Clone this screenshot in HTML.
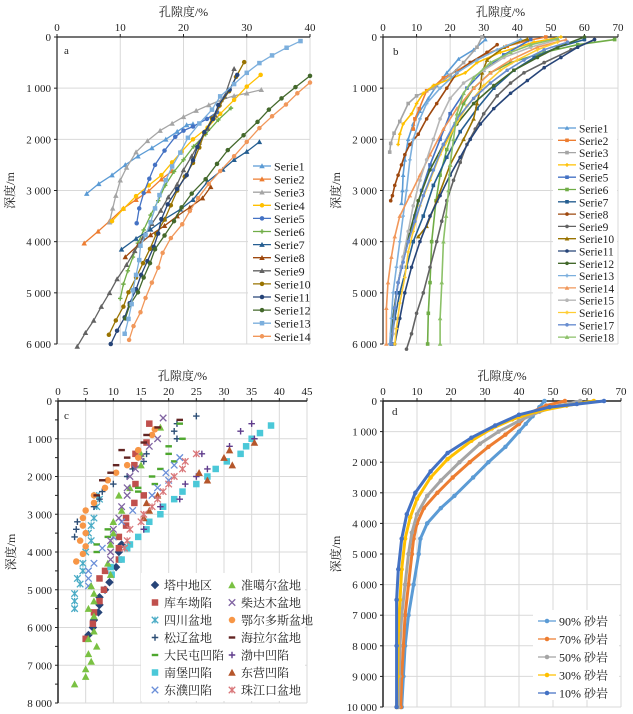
<!DOCTYPE html>
<html><head><meta charset="utf-8"><style>
html,body{margin:0;padding:0;background:#fff;}
svg{display:block;font-family:"Liberation Serif","Noto Serif CJK SC","Noto Sans CJK SC",serif;}
</style></head><body>
<svg id="chart" width="633" height="714" viewBox="0 0 633 714"></svg>
<script>
// ---------- DATA ----------
const aNames=["Serie1","Serie2","Serie3","Serie4","Serie5","Serie6","Serie7","Serie8","Serie9","Serie10","Serie11","Serie12","Serie13","Serie14"];
const aSeries=[
[[4.7,3060],[6.6,2870],[8.7,2700],[10.8,2500],[12.8,2330],[15,2170],[17.2,2000],[19,1850],[20.5,1720],[21.5,1700]],
[[4.3,4030],[6.5,3800],[8.3,3600],[10.5,3350],[12.5,3180],[14.5,3010],[16.5,2780],[18.2,2620]],
[[8.3,3620],[8.8,3350],[9.3,3100],[10,2800],[11,2550],[12.5,2250],[14.3,2030],[16.3,1830],[18.2,1690],[20,1560],[22,1440],[24,1330],[26,1230],[28,1150],[30,1100],[32.3,1030]],
[[8.7,3600],[10.5,3360],[12.5,3110],[14.5,2900],[16.5,2700],[18.2,2450],[19.7,2240],[21.5,2000],[23.8,1770],[25.8,1500],[28,1230],[30,970],[32.2,740]],
[[12.6,3640],[13,3350],[13.7,3050],[14.6,2770],[15.5,2500],[17,2220],[18.7,1950],[20,1830],[21.5,1750],[23.7,1600],[25.3,1470]],
[[10,5110],[10.5,4830],[11.2,4570],[12,4300],[12.8,4030],[13.7,3770],[14.8,3480],[16,3200],[17.1,2900],[18.5,2630],[20,2400],[21.6,2140],[23.5,1900],[25.5,1620],[27.5,1390]],
[[10.2,4150],[12.5,3940],[14.8,3760],[17,3560],[19.5,3370],[21.5,3180],[23.8,2830],[26.2,2590],[28,2400],[30,2240],[32,2050]],
[[10.8,4300],[12.8,4070],[14.8,3870],[17,3690],[19,3500],[21,3330],[23,3150],[24.3,2930]],
[[3.2,6050],[4.5,5780],[5.8,5540],[7,5270],[8.3,5000],[9.5,4730],[11,4450],[12.3,4180],[13.6,3920],[15,3650],[16.4,3390],[17.6,3130],[19,2880],[20,2600],[21.3,2330],[22.5,2060],[23.8,1790],[25,1530],[26.5,1160],[28,620]],
[[8.2,5820],[9.3,5540],[10.5,5270],[11.3,4990],[12.5,4700],[13.6,4420],[14.7,4140],[15.7,3850],[17,3570],[18,3290],[19,3000],[20.2,2730],[21.5,2460],[22.5,2160],[23.3,1880],[24.5,1590],[25.7,1340],[27.2,1060],[28.3,780],[29.6,490]],
[[8.5,6000],[9.5,5740],[10.7,5480],[11.5,5200],[12.5,4930],[13.3,4650],[14.3,4380],[15.3,4100],[16,3840],[16.5,3560],[17.5,3270],[19,2970],[20.5,2700],[21.5,2410],[22.2,2150],[23.3,1860],[24.7,1600],[25.5,1330],[27.3,1030],[28.5,740]],
[[10.8,5500],[11.5,5240],[12.8,4990],[13.7,4700],[14.7,4420],[15.5,4150],[17,3880],[18.5,3600],[19.7,3330],[21.3,3060],[23.5,2780],[25.3,2480],[27,2210],[29.5,1920],[31.7,1660],[33.5,1420],[35.5,1200],[37.7,980],[40,760]],
[[10.7,5800],[11.3,5510],[11.8,5220],[12,4950],[12.5,4650],[13,4360],[13.2,4080],[14,3870],[14.8,3620],[15.5,3350],[16.2,3090],[17.2,2800],[18.2,2530],[19.5,2260],[20.7,1970],[22.5,1690],[24.5,1420],[25.8,1160],[28,920],[30,700],[32,510],[34,360],[36.3,210],[38.5,80]],
[[11.4,5920],[12.1,5650],[13.2,5380],[14,5100],[15,4800],[16,4510],[16.7,4220],[18,3930],[19.8,3660],[21,3400],[22.3,3150],[24,2870],[25.8,2620],[28,2330],[30,2050],[32,1780],[34,1550],[36.2,1320],[38,1100],[40,890]]
];
const bNames=["Serie1","Serie2","Serie3","Serie4","Serie5","Serie6","Serie7","Serie8","Serie9","Serie10","Serie11","Serie12","Serie13","Serie14","Serie15","Serie16","Serie17","Serie18"];
const bSeries=[
[[30.5,50],[27,250],[22.5,430],[19,700],[16,950],[13.5,1200],[11,1450],[9,1700],[7.5,2000],[6.5,2400],[6,2700],[5.8,3000],[5.5,3250]],
[[48.5,0],[43,70],[37,180],[31,320],[26,500],[22,660],[18,800],[15.5,950],[13,1050],[10.8,1400],[9.5,1600],[9,1800]],
[[29.5,0],[28,200],[24,500],[20,750],[15,1000],[10,1150],[7.5,1300],[5,1650],[3.3,1880],[2.3,2080],[2,2250]],
[[53,0],[45,100],[35,300],[28,500],[24.5,700],[20,820],[15,950],[12,1100],[10,1300],[8.5,1500],[6,1700],[5,1900],[4.5,2100]],
[[44,50],[36,350],[30,650],[25,1000],[20,1500],[17,2000],[14,2500],[11.5,3000],[9.5,3500],[7.5,4000],[5.5,4500],[4,5000],[3,5500],[2.5,6000]],
[[69,50],[58,150],[48,300],[38,500],[32,700],[27,1000],[24,1300],[21.5,1700],[19,2200],[17,2700],[15.8,3200],[14.5,4000],[14,4800],[13.5,5400],[13.3,6000]],
[[60,50],[52,200],[45,400],[39,650],[33,1000],[28,1400],[23,1850],[19,2350],[15,2900],[12,3500],[9,4000],[7,4500],[5,5000],[3.5,5500],[2.5,6000]],
[[34,150],[31,300],[26,500],[22,700],[19,1000],[16,1300],[13,1600],[10.5,1900],[8,2100],[6.5,2300],[5.5,2500],[4.5,2700],[3.5,2900],[2.8,3100],[2.3,3200]],
[[63,50],[56,250],[48,500],[42,700],[38,900],[34,1150],[30,1500],[27.5,1800],[25,2100],[23,2450],[21,2800],[19,3200],[17.5,3600],[16,4000],[14,4500],[12,5000],[10,5400],[8.5,5800],[7,6100]],
[[43,40],[36,200],[31,450],[29.5,700],[29,1000],[28,1300],[27,1600],[24,2000],[20,2500],[16,3200],[13,3700],[10.5,3900]],
[[63,50],[58,200],[53,400],[48,600],[43,850],[38,1100],[33,1400],[29,1700],[26,2000],[23,2350],[20,2700],[17,3100],[14,3500],[11,4000],[8.5,4500],[6.5,5000],[5,5500],[3.5,6000]],
[[60,0],[52,200],[46,400],[39,650],[33,950],[27,1300],[22,1700],[18,2100],[14,2600],[10.5,3200],[8,3800],[6,4300],[4.5,4800],[3.3,5300],[2.5,5800],[2.2,6000]],
[[41,50],[34,250],[28,450],[22,700],[17,1000],[13,1300],[11,1600],[9,2000],[8,2400],[7,3000],[6,3500],[5,4000],[4,4500],[3,5000],[2.5,5500],[2,6000]],
[[54.5,50],[46,200],[38,450],[32,700],[27,1000],[22,1400],[18,1800],[14,2300],[11,2700],[8,3100],[5,3500],[3.5,3900],[2.5,4300],[1.5,4800],[1,5300],[1,6000]],
[[52,50],[44,200],[36,400],[30,650],[24,900],[20,1200],[17,1600],[15,2000],[13,2400],[11,2800],[9,3300],[7.5,3800],[6,4300],[4.5,4800],[3.5,5300],[3,5800]],
[[52,100],[46,250],[40,450],[35,650],[30,950],[25,1350],[21,1800],[17,2300],[14,2800],[11,3300],[9,3800],[7.5,4200],[6.5,4700],[5,5200],[4,5700],[3.5,6000]],
[[55,100],[48,250],[42,450],[37,650],[32,900],[27,1200],[22,1600],[18,2100],[15,2600],[12,3100],[9.5,3600],[7.5,4000],[6,4400],[4.5,4800],[3.5,5300],[2.5,6000]],
[[52,30],[44,150],[38,300],[32,500],[27,800],[24,1100],[22,1500],[21,2000],[20,2500],[19.5,3000],[18.8,3500],[18,4000],[17.5,4800],[17,5500],[17,6000]]
];
const cNames=["塔中地区","库车坳陷","四川盆地","松辽盆地","大民屯凹陷","南堡凹陷","东濮凹陷","准噶尔盆地","柴达木盆地","鄂尔多斯盆地","海拉尔盆地","渤中凹陷","东营凹陷","珠江口盆地"];
const cSeries=[
[[11.5,3800],[11,4000],[10.5,4400],[9.3,4800],[8.5,5000],[7.5,5200],[7.5,5400],[7.3,5600],[6.5,5800],[6.3,6000],[5.5,6200]],
[[16.5,600],[16,1100],[14,1400],[13.8,1700],[14,2200],[15.5,2500],[13.8,2700],[12.3,3100],[12.3,3300],[11,3600],[11,3900],[11,4200],[8.5,4500],[7.5,4700],[8.3,5000],[7.5,5300],[6.5,5600],[6.3,5900],[5,6300]],
[[7,2500],[7.5,2600],[7,2800],[6.5,3100],[6,3300],[5.5,3500],[6,3700],[5,4000],[4.5,4300],[4.5,4500],[3.5,4700],[4,4850],[3,5100],[3,5300],[3,5500]],
[[25,400],[21.5,600],[21,800],[21.5,1000],[16,1400],[15.5,1600],[13.5,1800],[12.5,2000],[10,2200],[8,2400],[7.5,2600],[6.5,2800],[3.5,3200],[3.3,3400],[3,3600],[15.5,3400]],
[[22,600],[22.5,1000],[20,1200],[20,1400],[21,1600],[18.5,1800],[17,2000],[17.5,2200],[14.5,2300],[14.5,2400],[9,3400],[9,3600],[7,3800],[7,4000]],
[[38.5,650],[36.5,850],[35,1000],[34,1200],[33,1400],[30.5,1600],[28.5,1800],[27,2000],[25,2200],[22.5,2400],[21,2600],[19,2800],[18.5,3000],[16.5,3200],[16,3400],[14.5,3600],[13,3800],[12.5,3900],[11.5,4200],[9.5,4400],[9.7,4600]],
[[22,1500],[21,1700],[19.5,1900],[20,2100],[18,2300],[17,2500],[13.5,2900],[11.5,3200],[10,3600],[8,3900],[6.5,4300],[5.5,4500],[5.5,4700],[5.5,4900]],
[[18.5,700],[15,1400],[15,1700],[13,2300],[11,2500],[11.5,2900],[10,3200],[10,3500],[9.5,3800],[9,4300],[9.5,4600],[6,4900],[6.5,5100],[6.5,5300],[5.5,5500],[6.5,5700],[6.5,6100],[5.5,6300],[7,6500],[5.5,6700],[6,6900],[5,7100],[5,7300],[3,7500]],
[[19,450],[18,1000],[16.5,1200],[15,1500],[14,1800],[13,2000],[12.5,2300],[12.5,2500],[11.5,2800],[11,3100],[10,3400],[9.5,3700],[9.5,4000],[9.5,4200]],
[[17.5,750],[17,900],[14.5,1300],[14.5,1500],[12.5,1700],[10.5,1900],[9,2100],[8.5,2300],[6.5,2500],[6.5,2700],[5,2900],[4.5,3100],[4.5,3300],[5,3500],[4,3700],[5,3850],[4.5,4050],[3.3,4250]],
[[22,500],[18,700],[16,900],[15.5,1100],[11.5,1300],[12.5,1500],[10.5,1700],[9.5,1900],[8,2100],[7,2500]],
[[35,600],[33,800],[35.5,1000],[31,1200],[26,1400],[27,1800],[25,2000],[23,2200],[22,2600],[18.5,2800],[15.5,3400]],
[[35.5,1100],[31,1300],[30,1500],[31.5,1700],[25.5,1900],[27,2100],[18,2500],[16,2700],[16.5,2900],[15.5,3100]],
[[25,1400],[23,1600],[22.5,1800],[21,2000],[20,2200],[19,2400],[18,2600],[17,2800],[15.5,3000],[15,3200],[13,3400],[12.5,3700],[12,3900]]
];
const dNames=["90% 砂岩","70% 砂岩","50% 砂岩","30% 砂岩","10% 砂岩"];
const dSeries=[
[[47.5,0],[46,200],[44,500],[42,750],[40,1000],[36,1500],[31,2000],[26.5,2500],[21,3100],[17,3500],[13,4000],[11,4500],[10.5,5000],[9,6000],[7.5,7000],[6.5,8000],[6,9000],[5.5,10000]],
[[53.5,0],[48,150],[43,400],[40,750],[36,1100],[31,1500],[25.5,2000],[20.5,2500],[16,3000],[12,3500],[10,4000],[9,4500],[8.5,5000],[7.5,6000],[6.5,7000],[6,8000],[5.5,9000],[5.2,10000]],
[[58,0],[52,150],[46,350],[40,650],[34,1000],[28.5,1400],[22.5,2000],[17,2600],[13,3100],[10,3700],[8.5,4300],[7.5,5000],[6.5,6000],[5.5,7000],[5,8000],[4.8,9000],[4.5,10000]],
[[62,0],[54,150],[45,350],[38,600],[32,900],[26,1300],[19,1900],[14,2500],[10,3200],[8,3800],[6.5,4500],[5.5,5500],[5,6500],[4.5,7500],[4.3,9000],[4,10000]],
[[65,0],[57,100],[49,200],[40,450],[33,800],[26,1200],[19,1700],[14,2300],[9.5,3000],[7,3700],[5.5,4500],[4.5,5500],[4,6500],[4,8000],[4,10000]]
];
// ---------- STYLE ----------
const aStyle=[["#5B9BD5","tri"],["#ED7D31","tri"],["#A5A5A5","tri"],["#FFC000","circ"],["#4472C4","circ"],["#70AD47","plus"],["#255E91","tri"],["#9E480E","tri"],["#636363","tri"],["#997300","circ"],["#264478","circ"],["#43682B","circ"],["#7CAFDD","sq"],["#F1975A","circ"]];
const bStyle=[["#5B9BD5","tri"],["#ED7D31","sq"],["#A5A5A5","sq"],["#FFC000","plus"],["#4472C4","sq"],["#70AD47","sq"],["#255E91","sq"],["#9E480E","circ"],["#636363","circ"],["#997300","tri"],["#264478","circ"],["#43682B","circ"],["#7CAFDD","plus"],["#F1975A","tri"],["#B7B7B7","circ"],["#FFCD33","plus"],["#698ED0","circ"],["#8CC168","tri"]];
const cStyle=[["#264478","dia"],["#C0504D","sq"],["#4BACC6","ast"],["#2C4D75","plus"],["#4EA72E","dash"],["#4BC8D8","sq"],["#6A8FD8","x"],["#7AC143","tri"],["#8064A2","x"],["#F79646","circ"],["#632523","dash"],["#5F3C8C","plus"],["#B5562B","tri"],["#D9777A","ast"]];
const dStyle=["#5B9BD5","#ED7D31","#A5A5A5","#FFC000","#4472C4"];

const NS="http://www.w3.org/2000/svg";
const svg=document.getElementById('chart');
function el(tag,attrs,parent,text){const e=document.createElementNS(NS,tag);for(const k in attrs)e.setAttribute(k,attrs[k]);if(text!==undefined)e.textContent=text;(parent||svg).appendChild(e);return e;}
function fmt(v){return v===0?"0":(v>=1000?Math.floor(v/1000)+" "+String(v%1000).padStart(3,"0"):String(v));}

function marker(g,shape,x,y,s,c){
  let m;
  if(shape==="circ")m=el("circle",{cx:x,cy:y,r:s/2,fill:c},g);
  else if(shape==="sq")m=el("rect",{x:x-s/2,y:y-s/2,width:s,height:s,fill:c},g);
  else if(shape==="tri")m=el("polygon",{points:`${x},${y-s/2-0.5} ${x-s/2-0.5},${y+s/2} ${x+s/2+0.5},${y+s/2}`,fill:c},g);
  else if(shape==="dia")m=el("polygon",{points:`${x},${y-s/2-1} ${x+s/2+1},${y} ${x},${y+s/2+1} ${x-s/2-1},${y}`,fill:c},g);
  else if(shape==="plus")m=el("path",{d:`M${x-s/2},${y}H${x+s/2}M${x},${y-s/2}V${y+s/2}`,stroke:c,"stroke-width":1.4,fill:"none"},g);
  else if(shape==="x")m=el("path",{d:`M${x-s/2},${y-s/2}L${x+s/2},${y+s/2}M${x+s/2},${y-s/2}L${x-s/2},${y+s/2}`,stroke:c,"stroke-width":1.3,fill:"none"},g);
  else if(shape==="ast")m=el("path",{d:`M${x-s/2},${y-s/2}L${x+s/2},${y+s/2}M${x+s/2},${y-s/2}L${x-s/2},${y+s/2}M${x},${y-s/2}V${y+s/2}`,stroke:c,"stroke-width":1.3,fill:"none"},g);
  else if(shape==="dash")m=el("rect",{x:x-s/2,y:y-1.2,width:s,height:2.4,fill:c},g);
  
  
  return m;
}

function panel(P){
  const g=el("g",{});
  
  
  const sx=v=>P.x0+(P.x1-P.x0)*v/P.xmax;
  const sy=v=>P.y0+(P.y1-P.y0)*v/P.ymax;
  for(let v=P.xstep;v<=P.xmax;v+=P.xstep){const l=el("line",{x1:sx(v),x2:sx(v),y1:P.y0,y2:P.y1,stroke:"#d9d9d9","stroke-width":1},g);}
  for(let v=P.ystep;v<=P.ymax;v+=P.ystep){const l=el("line",{x1:P.x0,x2:P.x1,y1:sy(v),y2:sy(v),stroke:"#d9d9d9","stroke-width":1},g);}
  const ax=el("line",{x1:P.x0,x2:P.x1,y1:P.y0,y2:P.y0,stroke:"#222","stroke-width":P.aw},g);
  const ay=el("line",{x1:P.x0,x2:P.x0,y1:P.y0,y2:P.y1,stroke:"#222","stroke-width":P.aw},g);
  for(let v=0;v<=P.xmax;v+=P.xstep){
    el("line",{x1:sx(v),x2:sx(v),y1:P.y0-3,y2:P.y0,stroke:"#222"},g);
    const t=el("text",{x:sx(v),y:P.y0-6,"font-size":11,"text-anchor":"middle",fill:"#222"},g,String(v));
    
  }
  for(let v=0;v<=P.ymax;v+=P.ystep){
    el("line",{x1:P.x0-3,x2:P.x0,y1:sy(v),y2:sy(v),stroke:"#222"},g);
    const t=el("text",{x:P.x0-6,y:sy(v)+4,"font-size":11,"text-anchor":"end",fill:"#222"},g,fmt(v));
    
  }
  if(P.minor){for(let v=P.minor;v<P.ymax;v+=P.ystep)el("line",{x1:P.x0-3,x2:P.x0,y1:sy(v),y2:sy(v),stroke:"#222"},g);}
  const xt=el("text",{x:(P.x0+P.x1)/2,y:P.y0-21,"font-size":12,"text-anchor":"middle",fill:"#222"},g,"孔隙度/%");
  
  const yc=(P.y0+P.y1)/2;
  const yt=el("text",{x:P.ytx,y:yc,"font-size":12,"text-anchor":"middle",fill:"#222",transform:`rotate(-90 ${P.ytx} ${yc})`},g,"深度/m");
  
  const lt=el("text",{x:P.lx,y:P.ly,"font-size":11,fill:"#222"},g,P.id);
  
  P.series.forEach((pts,i)=>{
    const [c,shape]=P.style[i];
    const sg=el("g",{},g);
    
    
    if(P.lines){
      const d=pts.map((p,k)=>(k?"L":"M")+sx(p[0]).toFixed(1)+","+sy(p[1]).toFixed(1)).join("");
      const pl=el("path",{d:d,fill:"none",stroke:c,"stroke-width":P.lw,"stroke-linejoin":"round"},sg);
      
    }
    pts.forEach(p=>marker(sg,shape,sx(p[0]),sy(p[1]),P.ms,c));
  });
  const L=P.legend;
  const lg=el("g",{},g);
  
  
  el("rect",{x:L.x,y:L.y,width:L.w,height:L.h,fill:"#fff"},lg);
  P.names.forEach((n,i)=>{
    const col=L.cols?Math.floor(i/L.cols):0, row=L.cols?i%L.cols:i;
    const [c,shape]=P.style[i];
    const ex=L.ex+col*(L.colw||0), ey=L.ey+row*L.dy;
    const eg=el("g",{},lg);
    
    
    if(P.lines)el("line",{x1:ex-9,x2:ex+9,y1:ey,y2:ey,stroke:c,"stroke-width":1.3},eg);
    marker(eg,shape,ex,ey,L.ms,c);
    el("text",{x:ex+L.tx,y:ey+4.5,"font-size":L.fs,fill:"#222"},eg,n);
  });
}

panel({id:"a",x0:57,x1:310,y0:37,y1:344,xmax:40,xstep:10,ymax:6000,ystep:1000,aw:1.2,ytx:14,lx:64,ly:54,
 series:aSeries,names:aNames,style:aStyle,lines:true,lw:1.3,ms:4.5,
 legend:{x:248,y:155,w:61,h:188,ex:262,ey:166,dy:13.1,ms:4.5,tx:12,fs:12}});
panel({id:"b",x0:383,x1:618,y0:37,y1:344,xmax:70,xstep:10,ymax:6000,ystep:1000,aw:1.2,ytx:340,lx:393,ly:55,
 series:bSeries,names:bNames,style:bStyle,lines:true,lw:1.6,ms:3.6,
 legend:{x:553,y:120,w:64,h:223,ex:567,ey:128,dy:12.3,ms:3.6,tx:12,fs:11.5}});
panel({id:"c",x0:58,x1:307,y0:401,y1:703,xmax:45,xstep:5,ymax:8000,ystep:1000,minor:500,aw:1.5,ytx:15,lx:64,ly:419,
 series:cSeries,names:cNames,style:cStyle,lines:false,ms:6.5,
 legend:{x:141,y:573,w:164,h:128,cols:7,colw:77,ex:155,ey:585,dy:17.5,ms:6.5,tx:9,fs:12}});
panel({id:"d",x0:383,x1:621,y0:401,y1:707,xmax:70,xstep:10,ymax:10000,ystep:1000,aw:1.5,ytx:340,lx:392,ly:415,
 series:dSeries,names:dNames,style:dStyle.map(c=>[c,"circ"]),lines:true,lw:3,ms:4.5,
 legend:{x:533,y:610,w:86,h:90,ex:547,ey:621,dy:18,ms:4.5,tx:12,fs:12}});
</script>
</body></html>
